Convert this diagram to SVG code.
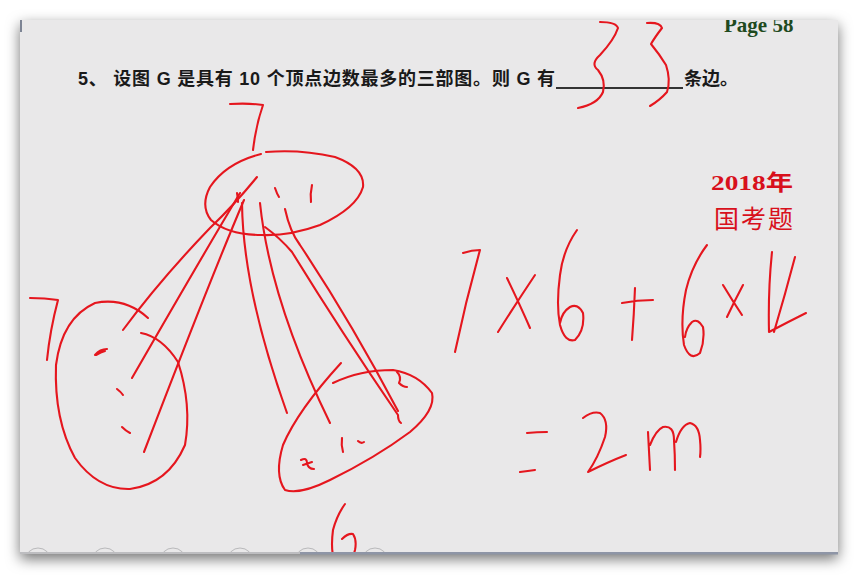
<svg xmlns="http://www.w3.org/2000/svg" width="859" height="576" viewBox="0 0 859 576">
<defs>
<filter id="sh" x="-10%" y="-10%" width="120%" height="125%">
<feDropShadow dx="0" dy="5" stdDeviation="7" flood-color="#000" flood-opacity="0.55"/>
</filter>
<clipPath id="slide"><rect x="20" y="20" width="818" height="534"/></clipPath>
<style>
.ink{fill:none;stroke:#e5161e;stroke-width:2.1;stroke-linecap:round;stroke-linejoin:round}
.q{font-family:"Liberation Sans","Noto Sans CJK SC",sans-serif;font-weight:bold;font-size:18px;fill:#1a1a1a}
.red{font-family:"Liberation Serif","Noto Sans CJK SC",serif;fill:#d8101c}
.tb{fill:none;stroke:#b9b9bb;stroke-width:1}
</style>
</defs>
<rect width="859" height="576" fill="#ffffff"/>
<rect x="20" y="20" width="818" height="534" fill="#e9e8e9" filter="url(#sh)"/>
<rect x="20" y="20" width="2" height="12" fill="#7d8494"/>
<g clip-path="url(#slide)">
<text x="724" y="32" font-family="Liberation Serif,serif" font-weight="bold" font-size="21" fill="#1f4a1f">Page 58</text>
<g id="toolbar">
<circle class="tb" cx="38" cy="561" r="13"/>
<circle class="tb" cx="105" cy="561" r="13"/>
<circle class="tb" cx="173" cy="561" r="13"/>
<circle class="tb" cx="240" cy="561" r="13"/>
<circle class="tb" cx="308" cy="561" r="13"/>
<circle class="tb" cx="375" cy="561" r="13"/>
</g>
<!-- label 6 under right part -->
<path class="ink" d="M345,504 Q337,515 333,530 Q331,545 333,556 M342,539 Q348,533 353,534 Q357,540 355,550 Q354,554 353,556"/>
</g>
<rect x="20" y="552" width="280" height="2" fill="#bdbdc0"/>
<rect x="300" y="552" width="538" height="2.5" fill="#8e95a6"/>

<text class="q" x="78" y="85" textLength="477" lengthAdjust="spacing">5、 设图 G 是具有 10 个顶点边数最多的三部图。则 G 有</text>
<line x1="556" y1="88" x2="683" y2="88" stroke="#333" stroke-width="2"/>
<text class="q" x="684" y="85" textLength="54" lengthAdjust="spacing">条边。</text>

<text class="red" x="711" y="190" font-size="22" font-weight="bold" textLength="82" lengthAdjust="spacingAndGlyphs">2018年</text>
<text class="red" x="714" y="228" font-size="25" textLength="79" lengthAdjust="spacing">国考题</text>

<g id="answer">
<path class="ink" d="M600,22 Q616,22 618,28 Q614,40 600,55 Q590,64 598,70 Q606,80 603,92 Q598,104 578,108"/>
<path class="ink" d="M647,23 Q660,22 662,28 Q655,37 651,44 Q660,55 666,65 Q671,80 667,92 Q660,100 650,106"/>
</g>

<g id="part-top">
<path class="ink" d="M266,152 Q300,149 335,157 Q365,168 363,187 Q357,208 320,225 Q290,236 262,235 Q228,235 211,220 Q200,206 210,187 Q226,163 261,154"/>
<path class="ink" d="M230,104 Q250,103 263,105 Q256,125 253,150"/>
<path class="ink" d="M275,188 Q277,194 279,197"/>
<path class="ink" d="M312,185 Q310,194 311,202"/>
</g>
<g id="part-left">
<path class="ink" d="M148,318 Q125,297 95,303 Q62,318 56,365 Q54,420 75,458 Q98,490 130,489 Q168,484 185,445 Q192,405 178,362 Q162,337 141,333"/>
<path class="ink" d="M30,298 Q45,298 58,300 Q50,330 47,360"/>
<path class="ink" d="M95,355 Q100,349 107,349 M96,355 Q101,352 105,351"/>
<path class="ink" d="M117,389 Q121,392 123,395"/>
<path class="ink" d="M122,427 Q126,431 130,433"/>
</g>
<g id="part-right">
<path class="ink" d="M333,383 Q360,370 393,370 Q418,374 432,393 Q436,410 410,432 Q375,458 330,480 Q300,495 285,490 Q274,475 283,445 Q298,410 341,363"/>
<path class="ink" d="M397,372 Q402,377 399,383 Q403,387 407,387"/>
<path class="ink" d="M301,460 Q307,457 307,463 Q308,469 314,469 M303,465 Q306,464 312,462"/>
<path class="ink" d="M342,438 Q341,445 343,452"/>
<path class="ink" d="M358,441 Q361,444 364,442"/>
</g>

<g id="connectors">
<path class="ink" d="M257,177 Q235,204 210,228 Q160,280 123,330"/>
<path class="ink" d="M240,193 Q200,260 132,378"/>
<path class="ink" d="M244,200 Q210,280 144,452"/>
<path class="ink" d="M242,203 Q243,290 287,413"/>
<path class="ink" d="M260,203 Q270,300 330,423"/>
<path class="ink" d="M265,227 Q280,238 292,252 Q340,330 398,415 Q398,421 401,423"/>
<path class="ink" d="M285,209 Q290,232 300,245 Q350,320 398,411"/>
<path class="ink" d="M237,193 Q238,198 238,202"/>
</g>

<g id="working">
<path class="ink" d="M463,253 Q472,250 480,250 Q466,300 455,352"/>
<path class="ink" d="M507,278 Q520,305 530,328 M535,275 Q515,305 498,332"/>
<path class="ink" d="M577,230 Q563,250 560,275 Q556,305 560,325 Q565,343 575,340 Q585,330 583,313 Q578,303 570,307 Q562,312 560,323"/>
<path class="ink" d="M622,303 Q637,300 653,300 M635,288 Q634,315 632,340"/>
<path class="ink" d="M707,245 Q692,265 686,290 Q680,320 684,345 Q690,362 700,353 Q705,340 703,327 Q698,318 692,322 Q686,328 685,337"/>
<path class="ink" d="M723,285 Q732,300 742,315 M743,285 Q734,302 727,317"/>
<path class="ink" d="M772,252 Q768,290 769,332 Q788,322 806,313 M795,257 Q785,295 774,332"/>
<path class="ink" d="M527,433 Q537,432 547,432 M520,472 Q528,471 535,470"/>
<path class="ink" d="M583,418 Q592,411 600,413 Q609,420 605,437 Q598,458 588,472 Q608,462 626,455"/>
<path class="ink" d="M648,432 Q649,450 650,470 M650,445 Q656,430 663,427 Q674,425 674,440 Q675,455 675,470 M676,442 Q681,425 690,423 Q699,425 700,440 Q701,450 700,457"/>
</g>
</svg>
